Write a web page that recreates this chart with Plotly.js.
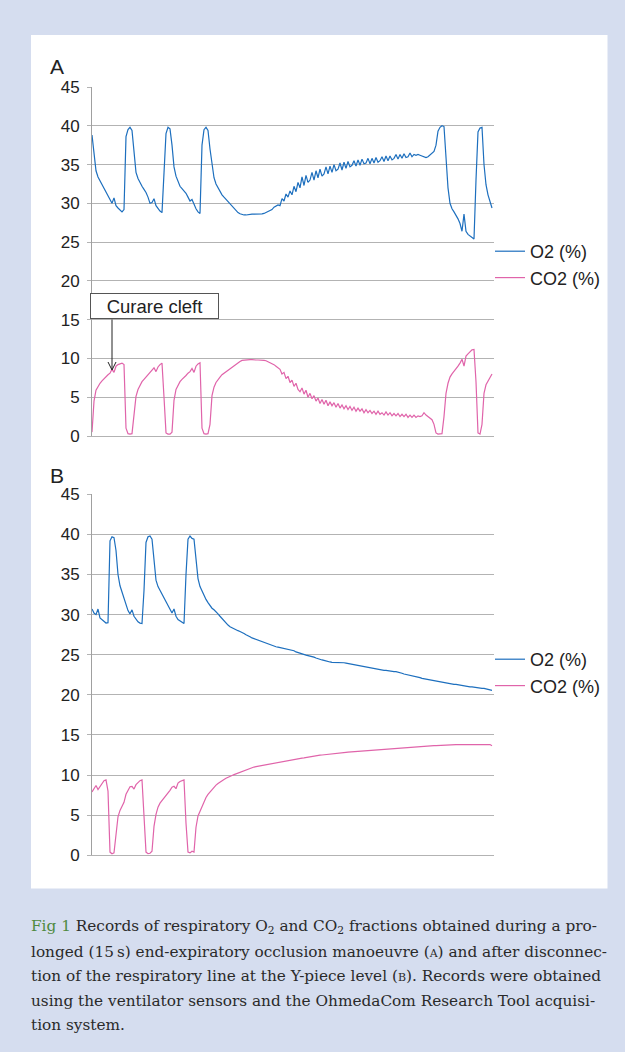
<!DOCTYPE html>
<html>
<head>
<meta charset="utf-8">
<script src="https://cdn.plot.ly/plotly-3.0.1.min.js"></script>
<style>html,body{margin:0;padding:0;background:#d5ddef;}#chart{width:625px;height:1052px;}</style>
</head>
<body>
<div id="chart"></div>
<script>
// Panel A: prolonged end-expiratory occlusion
const O2_A = [38.8,36.0,34.2,33.4,32.9,32.4,31.9,31.4,30.9,30.4,30.0,30.7,29.7,29.4,29.1,28.9,29.2,38.6,39.5,39.8,
39.4,36.5,34.0,33.2,32.6,32.2,31.8,31.4,30.8,30.0,30.1,30.6,29.7,29.3,29.0,28.8,34.0,39.0,39.8,39.6,
37.5,34.7,33.5,32.7,32.2,31.9,31.6,31.3,30.8,30.3,30.5,29.8,29.3,28.9,28.7,37.5,39.5,39.8,39.4,37.0,
34.8,33.3,32.5,32.0,31.5,31.1,30.8,30.5,30.2,29.9,29.6,29.3,29.0,28.8,28.65,28.55,28.5,28.5,28.55,28.55,
28.6,28.6,28.6,28.6,28.6,28.65,28.7,28.8,28.9,29.0,29.2,29.5,29.7,29.8,29.7,30.6,30.3,31.2,30.8,31.6,
31.1,32.2,31.5,32.7,32.0,33.4,32.3,33.6,32.7,33.0,34.0,33.0,34.2,33.3,34.4,33.5,33.8,34.7,33.8,34.8,
34.0,35.0,34.2,34.4,35.2,34.3,35.3,34.5,35.4,34.7,34.9,35.5,34.8,35.6,34.9,35.7,35.1,35.2,35.8,35.1,
35.8,35.2,35.9,35.3,35.5,36.0,35.4,36.1,35.5,36.1,35.6,35.8,36.3,35.7,36.3,35.8,36.4,35.9,36.0,36.5,
36.0,36.3,36.2,36.3,36.2,36.1,35.95,35.9,36.0,36.2,36.4,36.7,37.5,39.3,39.8,40.0,39.9,36.0,32.0,30.0,
29.3,28.9,28.5,28.0,27.4,26.4,28.6,26.4,26.0,25.8,25.6,25.4,33.0,39.2,39.7,39.8,35.0,32.4,31.1,30.2,29.4];
const CO2_A = [0.5,4.5,5.9,6.4,6.8,7.1,7.4,7.7,7.9,8.1,8.6,8.2,9.0,9.2,9.3,9.4,9.2,1.0,0.3,0.25,
0.3,3.0,5.1,6.0,6.6,7.0,7.3,7.6,7.9,8.1,8.4,8.8,8.3,8.9,9.2,9.4,5.0,0.4,0.25,0.25,
0.5,4.6,6.0,6.6,7.0,7.3,7.5,7.8,8.1,8.3,8.7,8.2,9.0,9.3,9.45,1.0,0.3,0.25,0.3,1.5,
5.2,6.3,6.9,7.3,7.6,7.9,8.1,8.3,8.5,8.7,8.9,9.1,9.3,9.45,9.6,9.75,9.8,9.85,9.85,9.85,
9.85,9.8,9.8,9.8,9.8,9.75,9.75,9.7,9.6,9.5,9.35,9.2,9.0,8.8,8.6,8.0,8.2,7.4,7.7,6.9,
7.2,6.4,6.8,6.0,5.7,6.2,5.4,5.9,5.0,5.5,4.8,5.2,4.5,4.9,4.2,4.7,4.1,4.6,3.9,4.4,
3.9,4.3,3.7,4.2,3.6,4.0,3.5,3.9,3.4,3.8,3.3,3.7,3.2,3.6,3.2,3.5,3.0,3.4,3.0,3.3,
2.9,3.2,2.8,3.2,2.8,3.0,2.7,3.1,2.7,3.0,2.6,2.9,2.6,2.9,2.5,2.8,2.5,2.8,2.4,2.7,
2.4,2.7,2.4,2.6,2.5,2.6,3.0,2.7,2.5,2.4,2.1,1.5,0.4,0.25,0.25,0.3,2.5,5.5,6.8,7.6,
8.0,8.3,8.6,9.0,9.4,9.9,9.0,10.3,10.6,10.9,11.1,11.15,7.0,0.4,0.25,1.5,5.5,6.6,7.1,7.5,8.0];

// Panel B: disconnection of the respiratory line at the Y-piece
const O2_B = [30.7,30.2,30.0,30.7,29.6,29.4,29.2,28.95,29.0,39.2,39.7,39.6,38.0,35.0,33.6,32.8,32.2,31.1,30.5,30.1,
30.6,29.8,29.4,29.1,28.95,28.9,33.0,39.0,39.7,39.8,39.4,36.5,34.3,33.5,33.0,32.5,32.0,31.5,31.1,30.7,
30.2,30.7,29.8,29.4,29.2,29.0,28.9,35.0,39.4,39.8,39.5,39.4,36.5,34.5,33.5,32.9,32.4,31.9,31.5,31.1,
30.8,30.6,30.4,30.1,29.8,29.5,29.2,28.95,28.7,28.5,28.35,28.2,28.1,28.0,27.9,27.8,27.65,27.5,27.4,27.25,
27.1,27.0,26.9,26.8,26.7,26.6,26.5,26.4,26.35,26.3,26.2,26.1,26.0,25.95,25.9,25.85,25.8,25.75,25.7,25.65,
25.6,25.5,25.35,25.25,25.15,25.05,25.0,24.95,24.9,24.85,24.8,24.7,24.6,24.5,24.45,24.35,24.3,24.2,24.15,24.1,
24.05,24.05,24.05,24.05,24.05,24.05,24.0,23.95,23.9,23.85,23.8,23.8,23.75,23.7,23.65,23.6,23.5,23.45,23.4,23.35,
23.3,23.3,23.25,23.2,23.15,23.1,23.05,23.05,23.0,23.0,22.95,22.9,22.9,22.85,22.8,22.7,22.6,22.55,22.5,22.45,
22.4,22.3,22.25,22.2,22.15,22.05,22.0,21.95,21.9,21.85,21.8,21.75,21.7,21.65,21.6,21.55,21.5,21.45,21.4,21.4,
21.35,21.3,21.3,21.25,21.2,21.15,21.1,21.1,21.05,21.0,21.0,20.95,20.9,20.9,20.85,20.8,20.8,20.75,20.7,20.65,20.55];
const CO2_B = [7.9,8.4,8.7,8.2,8.6,9.0,9.3,9.4,8.0,0.4,0.2,0.3,2.7,4.8,5.6,6.1,6.6,7.6,8.1,8.55,
8.6,8.25,8.8,9.1,9.3,9.4,5.0,0.4,0.2,0.25,0.5,3.6,5.1,6.0,6.5,6.8,7.1,7.4,7.7,8.1,
8.5,8.6,8.3,9.0,9.2,9.35,9.4,4.0,0.4,0.3,0.5,0.4,3.5,4.9,5.5,6.2,6.7,7.2,7.6,7.9,
8.2,8.5,8.75,8.95,9.15,9.3,9.45,9.6,9.75,9.85,9.95,10.05,10.15,10.25,10.35,10.45,10.55,10.6,10.7,10.8,
10.9,11.0,11.05,11.1,11.15,11.2,11.25,11.3,11.35,11.4,11.45,11.5,11.55,11.6,11.65,11.7,11.72,11.75,11.8,11.85,
11.9,11.95,12.0,12.05,12.1,12.12,12.15,12.2,12.25,12.3,12.35,12.38,12.4,12.45,12.48,12.5,12.52,12.55,12.58,12.6,
12.62,12.65,12.68,12.7,12.73,12.76,12.8,12.83,12.86,12.88,12.9,12.93,12.96,13.0,13.02,13.04,13.06,13.08,13.1,13.12,
13.14,13.16,13.18,13.2,13.22,13.24,13.26,13.28,13.3,13.32,13.34,13.36,13.38,13.4,13.42,13.44,13.46,13.48,13.5,13.52,
13.54,13.56,13.57,13.59,13.6,13.61,13.62,13.63,13.64,13.65,13.66,13.67,13.68,13.7,13.71,13.72,13.73,13.74,13.75,13.76,
13.77,13.78,13.79,13.8,13.8,13.81,13.82,13.82,13.83,13.84,13.84,13.85,13.85,13.86,13.86,13.86,13.87,13.87,13.87,13.8,13.65];

const seriesNames = ['O2 (%)', 'CO2 (%)'];
const yTicks = [0, 5, 10, 15, 20, 25, 30, 35, 40, 45];
const panelLabels = ['A', 'B'];
const arrowLabel = 'Curare cleft';
const captionLines = [
  '<span style="color:#4f8a3e">Fig 1</span> Records of respiratory O<sub>2</sub> and CO<sub>2</sub> fractions obtained during a pro-',
  'longed (15\u2009s) end-expiratory occlusion manoeuvre (<span style="font-size:11px">A</span>) and after disconnec-',
  'tion of the respiratory line at the Y-piece level (<span style="font-size:11px">B</span>). Records were obtained',
  'using the ventilator sensors and the OhmedaCom Research Tool acquisi-',
  'tion system.'
];

const W = 625, H = 1052;
const px = v => v / W;
const py = v => 1 - v / H;
const O2_COLOR = '#1d6fbe';
const CO2_COLOR = '#e064aa';
const GRID = '#b3b3b3';
const FONT = 'Liberation Sans, Arial, sans-serif';

const sampleA = O2_A.map((_, i) => i);
const sampleB = O2_B.map((_, i) => i);

const traces = [
  {x: sampleA, y: O2_A, name: seriesNames[0], type: 'scatter', mode: 'lines', xaxis: 'x', yaxis: 'y', legend: 'legend',
   line: {color: O2_COLOR, width: 1.2}},
  {x: sampleA, y: CO2_A, name: seriesNames[1], type: 'scatter', mode: 'lines', xaxis: 'x', yaxis: 'y', legend: 'legend',
   line: {color: CO2_COLOR, width: 1.2}},
  {x: sampleB, y: O2_B, name: seriesNames[0], type: 'scatter', mode: 'lines', xaxis: 'x2', yaxis: 'y2', legend: 'legend2',
   line: {color: O2_COLOR, width: 1.2}},
  {x: sampleB, y: CO2_B, name: seriesNames[1], type: 'scatter', mode: 'lines', xaxis: 'x2', yaxis: 'y2', legend: 'legend2',
   line: {color: CO2_COLOR, width: 1.2}}
];

const xAxisBase = {
  range: [0, sampleA.length], showgrid: false, zeroline: false, showticklabels: false, ticks: '',
  showline: true, linecolor: GRID, linewidth: 1, fixedrange: true
};
const yAxisBase = {
  range: [0, 45], tickvals: yTicks, ticktext: yTicks.map(String), showgrid: true, gridcolor: GRID, gridwidth: 1,
  zeroline: false, showline: true, linecolor: '#a0a0a0', linewidth: 1, ticks: 'outside', ticklen: 4,
  tickcolor: GRID, tickwidth: 1, tickfont: {family: FONT, size: 17, color: '#222'}, ticklabelstandoff: 4, fixedrange: true
};

const legendBase = {
  xanchor: 'left', yanchor: 'middle', bgcolor: 'rgba(0,0,0,0)', borderwidth: 0,
  font: {family: FONT, size: 18, color: '#222'}, itemwidth: 30, traceorder: 'normal'
};

// arrow from the "Curare cleft" box down to the cleft in the CO2 trace
const arrowX = 112, arrowTop = 319.5, arrowTip = 370;
const headPath = 'M ' + px(arrowX - 4) + ' ' + py(arrowTip - 8) + ' L ' + px(arrowX) + ' ' + py(arrowTip) +
                 ' L ' + px(arrowX + 4) + ' ' + py(arrowTip - 8);

const layout = {
  width: W, height: H,
  margin: {l: 0, r: 0, t: 0, b: 0},
  paper_bgcolor: '#d5ddef', plot_bgcolor: 'rgba(0,0,0,0)',
  font: {family: FONT, color: '#222'},
  showlegend: true,
  xaxis: Object.assign({}, xAxisBase, {domain: [px(92), px(494)], anchor: 'y'}),
  yaxis: Object.assign({}, yAxisBase, {domain: [py(436), py(87)], anchor: 'x'}),
  xaxis2: Object.assign({}, xAxisBase, {domain: [px(92), px(494)], anchor: 'y2'}),
  yaxis2: Object.assign({}, yAxisBase, {domain: [py(855.3), py(494.3)], anchor: 'x2'}),
  legend: Object.assign({}, legendBase, {x: px(490), y: py(264.5)}),
  legend2: Object.assign({}, legendBase, {x: px(490), y: py(672.5)}),
  shapes: [
    {type: 'rect', xref: 'paper', yref: 'paper', x0: px(31), x1: px(607.5), y0: py(888.5), y1: py(35),
     fillcolor: '#ffffff', line: {width: 0}, layer: 'below'},
    {type: 'line', xref: 'paper', yref: 'paper', x0: px(arrowX), x1: px(arrowX), y0: py(arrowTop), y1: py(arrowTip - 0.5),
     line: {color: '#222', width: 1}},
    {type: 'path', xref: 'paper', yref: 'paper', path: headPath, line: {color: '#222', width: 1}}
  ],
  annotations: [
    {xref: 'paper', yref: 'paper', x: px(48), y: py(66), xanchor: 'left', yanchor: 'middle', showarrow: false,
     text: panelLabels[0], font: {family: FONT, size: 21, color: '#222'}},
    {xref: 'paper', yref: 'paper', x: px(48), y: py(475), xanchor: 'left', yanchor: 'middle', showarrow: false,
     text: panelLabels[1], font: {family: FONT, size: 21, color: '#222'}},
    {xref: 'paper', yref: 'paper', x: px(154.5), y: py(306.5), xanchor: 'center', yanchor: 'middle', showarrow: false,
     text: arrowLabel, font: {family: FONT, size: 18.5, color: '#222'}, bgcolor: '#ffffff',
     bordercolor: '#555555', borderwidth: 1, borderpad: 1, width: 125, height: 22}
  ]
};

const captionBaselines = [932.3, 956.7, 981.1, 1005.5, 1029.9];
captionLines.forEach((t, i) => {
  layout.annotations.push({
    xref: 'paper', yref: 'paper', x: px(29), y: py(captionBaselines[i] - 5), xanchor: 'left', yanchor: 'middle',
    showarrow: false, text: t, align: 'left', font: {family: 'DejaVu Serif, serif', size: 15.3, color: '#2a2a2a'}
  });
});

Plotly.newPlot('chart', traces, layout, {displayModeBar: false, staticPlot: true});
</script>
</body>
</html>
